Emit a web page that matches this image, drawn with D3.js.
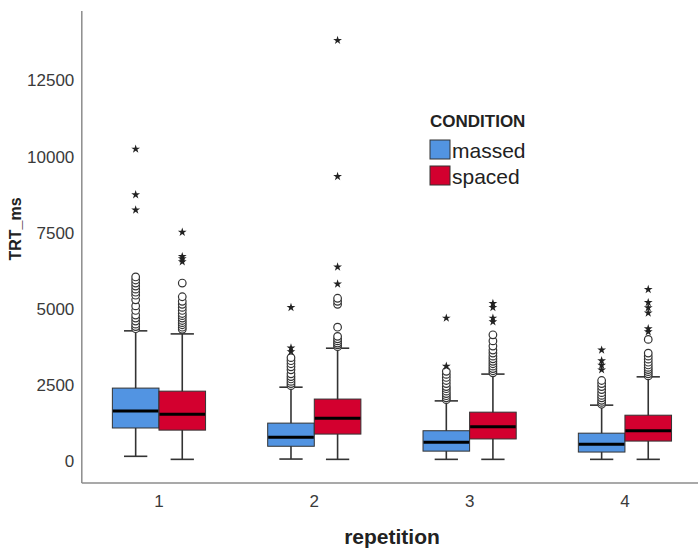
<!DOCTYPE html>
<html>
<head>
<meta charset="utf-8">
<script src="https://cdn.jsdelivr.net/npm/d3@7"></script>
<style>
  body { margin: 0; background: #fff; }
  svg text { font-family: "Liberation Sans", Arial, sans-serif; }
</style>
</head>
<body>
<svg id="chart" width="698" height="549"></svg>
<script>
// data
const repetitions = ["1", "2", "3", "4"];
const conditions = ["massed", "spaced"];
const yTicks = [0, 2500, 5000, 7500, 10000, 12500];

const massedLow = [160, 70, 60, 60];
const massedQ1 = [1090, 490, 330, 300];
const massedMedian = [1650, 790, 620, 560];
const massedQ3 = [2400, 1250, 1000, 920];
const massedHigh = [4280, 2430, 1980, 1840];
const massedCircles = [
  [4350, 4420, 4500, 4600, 4700, 4800, 4950, 5100, 5300, 5450, 5550, 5650, 5750, 5850, 5950, 6050],
  [2480, 2550, 2620, 2700, 2780, 2870, 3000, 3100, 3200, 3300, 3400],
  [2020, 2080, 2150, 2220, 2300, 2380, 2450, 2550, 2650, 2750, 2850, 2950],
  [1870, 1930, 2000, 2080, 2160, 2250, 2350, 2450, 2550, 2650]
];
const massedStars = [
  [8250, 8750, 10250],
  [3600, 3720, 5050],
  [3120, 4700],
  [3000, 3150, 3300, 3650]
];

const spacedLow = [60, 60, 60, 60];
const spacedQ1 = [1020, 890, 730, 660];
const spacedMedian = [1540, 1410, 1130, 1000];
const spacedQ3 = [2300, 2040, 1610, 1510];
const spacedHigh = [4180, 3710, 2860, 2770];
const spacedCircles = [
  [4330, 4400, 4480, 4550, 4620, 4700, 4780, 4850, 4950, 5050, 5150, 5250, 5400, 5850],
  [3760, 3820, 3880, 3950, 4020, 4100, 4400, 5150, 5250, 5350],
  [2900, 2970, 3040, 3120, 3200, 3280, 3360, 3450, 3550, 3650, 3780, 3950, 4150],
  [2800, 2870, 2940, 3010, 3080, 3160, 3250, 3350, 3450, 3550, 4000]
];
const spacedStars = [
  [6550, 6650, 6720, 7520],
  [5820, 6380, 9350, 13820],
  [4580, 4700, 5050, 5180],
  [4250, 4350, 4870, 5040, 5210, 5640]
];

const colors = { massed: "#5294e2", spaced: "#d3002f" };

// build one row per box from the arrays
let boxes = [];
repetitions.forEach((r, i) => {
  boxes.push({rep: r, cond: "massed", low: massedLow[i], q1: massedQ1[i], med: massedMedian[i],
    q3: massedQ3[i], high: massedHigh[i], circles: massedCircles[i], stars: massedStars[i]});
  boxes.push({rep: r, cond: "spaced", low: spacedLow[i], q1: spacedQ1[i], med: spacedMedian[i],
    q3: spacedQ3[i], high: spacedHigh[i], circles: spacedCircles[i], stars: spacedStars[i]});
});

var svg = d3.select("svg#chart");

let xScale = d3.scaleBand()
  .domain(repetitions)
  .range([81.3, 702.6])
  .paddingInner(0.4)
  .paddingOuter(0.2);

let xInner = d3.scaleBand()
  .domain(conditions)
  .range([0, xScale.bandwidth()]);

let yScale = d3.scaleLinear()
  .domain([-700, 14800])
  .range([482.5, 10.5]);

// axes
let yAxis = svg.append("g")
  .attr("transform", "translate(81.3,0)")
  .call(d3.axisLeft(yScale).tickValues(yTicks).tickSize(0).tickPadding(7).tickFormat(d3.format("d")));
yAxis.select(".domain").attr("stroke", "#8c8c8c").attr("stroke-width", 1.5);
yAxis.selectAll("text").attr("font-size", "17px").attr("fill", "#3a3a3a");

let xAxis = svg.append("g")
  .attr("transform", "translate(0,482.5)")
  .call(d3.axisBottom(xScale).tickSize(0).tickPadding(12));
xAxis.select(".domain").attr("stroke", "#8c8c8c").attr("stroke-width", 1.5);
xAxis.selectAll("text").attr("font-size", "17px").attr("fill", "#3a3a3a");

svg.append("text")
  .attr("transform", "translate(21,229) rotate(-90)")
  .attr("text-anchor", "middle")
  .attr("font-size", "16px")
  .attr("font-weight", "bold")
  .attr("fill", "#222")
  .text("TRT_ms");

svg.append("text")
  .attr("x", 392)
  .attr("y", 544)
  .attr("text-anchor", "middle")
  .attr("font-size", "21px")
  .attr("font-weight", "bold")
  .attr("fill", "#222")
  .text("repetition");

// boxes
let g = svg.selectAll("g.box")
  .data(boxes)
  .enter()
  .append("g")
    .attr("class", "box")
    .attr("transform", (d) => "translate(" + (xScale(d.rep) + xInner(d.cond)) + ",0)");

let bw = xInner.bandwidth();

g.append("line")
  .attr("x1", bw / 2).attr("x2", bw / 2)
  .attr("y1", (d) => yScale(d.high)).attr("y2", (d) => yScale(d.low))
  .attr("stroke", "#333").attr("stroke-width", 1.6);

g.selectAll("line.cap")
  .data((d) => [d.low, d.high])
  .enter()
  .append("line")
    .attr("class", "cap")
    .attr("x1", bw / 4).attr("x2", bw * 3 / 4)
    .attr("y1", (v) => yScale(v)).attr("y2", (v) => yScale(v))
    .attr("stroke", "#333").attr("stroke-width", 1.6);

g.append("rect")
  .attr("x", 0)
  .attr("width", bw)
  .attr("y", (d) => yScale(d.q3))
  .attr("height", (d) => yScale(d.q1) - yScale(d.q3))
  .attr("fill", (d) => colors[d.cond])
  .attr("stroke", "#333")
  .attr("stroke-width", 1);

g.append("line")
  .attr("x1", 0.5).attr("x2", bw - 0.5)
  .attr("y1", (d) => yScale(d.med)).attr("y2", (d) => yScale(d.med))
  .attr("stroke", "#000").attr("stroke-width", 3);

g.selectAll("circle")
  .data((d) => d.circles)
  .enter()
  .append("circle")
    .attr("cx", bw / 2)
    .attr("cy", (v) => yScale(v))
    .attr("r", 3.8)
    .attr("fill", "#fff")
    .attr("stroke", "#333")
    .attr("stroke-width", 1.2);

g.selectAll("path.star")
  .data((d) => d.stars)
  .enter()
  .append("path")
    .attr("class", "star")
    .attr("transform", (v) => "translate(" + (bw / 2) + "," + yScale(v) + ")")
    .attr("d", d3.symbol().type(d3.symbolStar).size(24))
    .attr("fill", "#222");

// legend
let legend = svg.append("g");
legend.append("text")
  .attr("x", 430)
  .attr("y", 127)
  .attr("font-size", "17px")
  .attr("font-weight", "bold")
  .attr("fill", "#222")
  .text("CONDITION");

let items = legend.selectAll("g.item")
  .data(conditions)
  .enter()
  .append("g")
    .attr("class", "item")
    .attr("transform", (d, i) => "translate(430," + (140 + i * 26) + ")");

items.append("rect")
  .attr("width", 20)
  .attr("height", 19)
  .attr("fill", (d) => colors[d])
  .attr("stroke", "#333")
  .attr("stroke-width", 1);

items.append("text")
  .attr("x", 22)
  .attr("y", 18)
  .attr("font-size", "21px")
  .attr("fill", "#222")
  .text((d) => d);
</script>
</body>
</html>
